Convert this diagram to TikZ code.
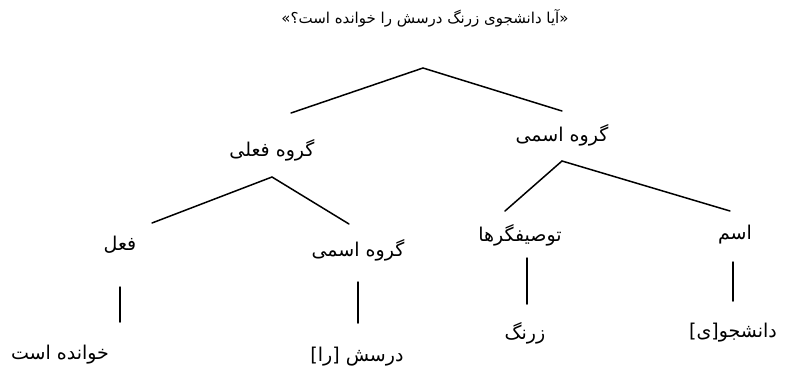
\documentclass[tikz,border=0pt]{standalone}
\usepackage{fontspec}
\TeXXeTstate=1
\newfontfamily\arabicfont[Script=Arabic]{DejaVu Sans}
\begin{document}
\begin{tikzpicture}[x=1pt,y=-1pt,
  lbl/.style={font=\arabicfont\fontsize{19}{22}\selectfont, inner sep=0pt, anchor=center},
  ttl/.style={font=\arabicfont\fontsize{15}{18}\selectfont, inner sep=0pt, anchor=center},
  branch/.style={line width=1.5pt, line cap=round}]
\useasboundingbox (0,0) rectangle (790,367);
% labels
\node[ttl] (title) at (425,18) {\beginR «آیا دانشجوی زرنگ درسش را خوانده است؟»\endR};
\node[lbl] (vp)   at (272,150) {\beginR گروه فعلی\endR};
\node[lbl] (np1)  at (562,135) {\beginR گروه اسمی\endR};
\node[lbl] (v)    at (120,245) {\beginR فعل\endR};
\node[lbl] (np2)  at (358,250) {\beginR گروه اسمی\endR};
\node[lbl] (mod)  at (520,235) {\beginR توصیفگرها\endR};
\node[lbl] (n)    at (735,235) {\beginR اسم\endR};
\node[lbl] (l1)   at (60,355)  {\beginR خوانده است\endR};
\node[lbl] (l2)   at (357,357) {\beginR درسش [را]\endR};
\node[lbl] (l3)   at (525,333) {\beginR زرنگ\endR};
\node[lbl] (l4)   at (733,333) {\beginR دانشجو[ی]\endR};
% connector end points
\coordinate (rA) at (423,68);
\coordinate (rL) at (291,113);
\coordinate (rR) at (562,111);
\coordinate (vA) at (272,177);
\coordinate (vL) at (152,223);
\coordinate (vR) at (349,224);
\coordinate (nA) at (562,161);
\coordinate (nL) at (505,211);
\coordinate (nR) at (730,211);
\coordinate (a1) at (120,287);
\coordinate (b1) at (120,322);
\coordinate (a2) at (358,282);
\coordinate (b2) at (358,323);
\coordinate (a3) at (527,258);
\coordinate (b3) at (527,304);
\coordinate (a4) at (733,262);
\coordinate (b4) at (733,301);
% connectors
\draw[branch] (rL) -- (rA) -- (rR);
\draw[branch] (vL) -- (vA) -- (vR);
\draw[branch] (nL) -- (nA) -- (nR);
\draw[branch] (a1) -- (b1);
\draw[branch] (a2) -- (b2);
\draw[branch] (a3) -- (b3);
\draw[branch] (a4) -- (b4);
\end{tikzpicture}
\end{document}
